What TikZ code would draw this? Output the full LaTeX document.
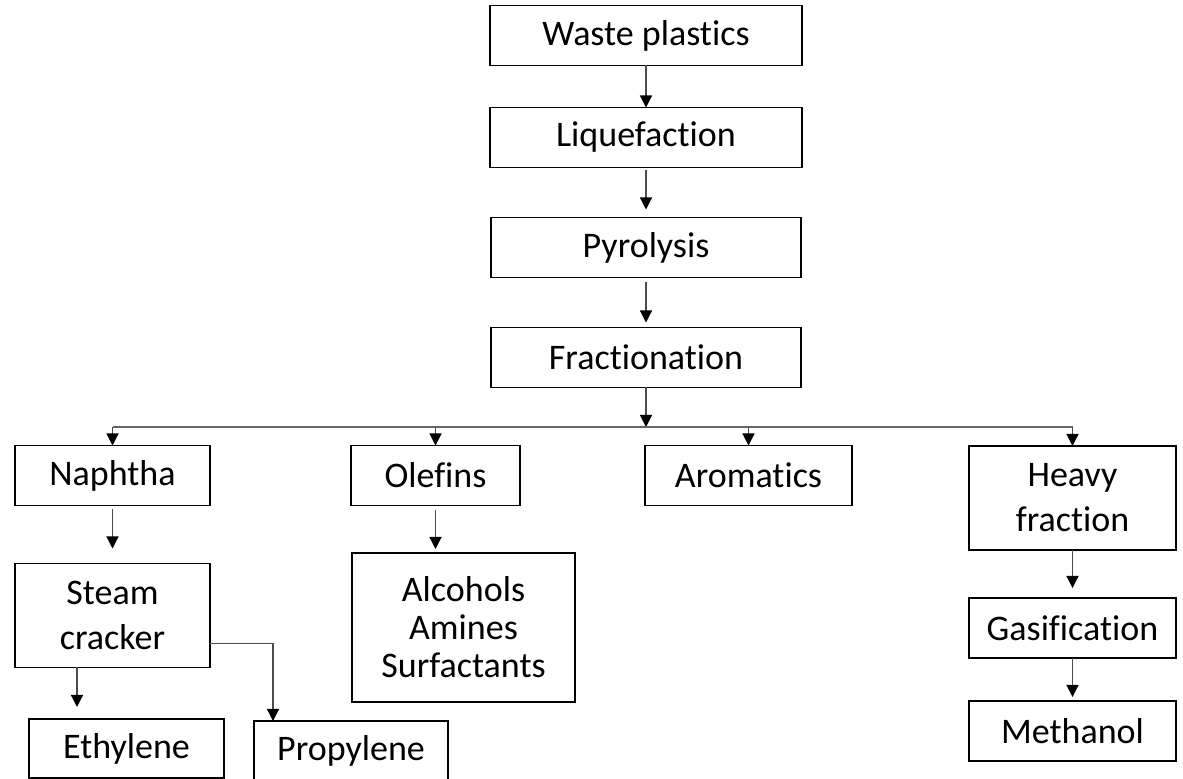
\documentclass[tikz,border=0pt]{standalone}
\usepackage{fontspec}
\setmainfont[Ligatures=NoCommon]{Carlito}
\usetikzlibrary{positioning,arrows.meta}

\begin{document}
\begin{tikzpicture}[x=0.5pt,y=-0.5pt,
				box/.style={draw,rectangle,line width=0.75pt,align=center,inner sep=0pt,outer sep=0pt,minimum height=30pt,font=\fontsize{18pt}{22.5pt}\selectfont},
				link/.style={draw=black!70,line width=0.6pt,-{Triangle[width=6pt,length=6pt,color=black,fill=black]}},
				busline/.style={draw=black!60,line width=0.6pt}]
				\useasboundingbox (0,0) rectangle (1183,779);
				% main chain
				\node (waste) [box,minimum width=156pt] at (646,35.5) {Waste plastics};
				\node (liq)   [box,minimum width=156pt,below=21pt of waste] {Liquefaction};
				\node (pyro)  [box,minimum width=155pt,below=25pt of liq]   {Pyrolysis};
				\node (frac)  [box,minimum width=155pt,below=25pt of pyro]  {Fractionation};
				\coordinate (bus) at (645,427);
				% fractions
				\node (naph)  [box,minimum width=97.5pt]  at (112.5,475.5) {Naphtha};
				\node (olef)  [box,minimum width=84.5pt]  at (435.5,475.5) {Olefins};
				\node (arom)  [box,minimum width=103.5pt] at (748.5,475.5) {Aromatics};
				\node (heavy) [box,minimum width=103.5pt,minimum height=52pt] at (1072.5,498) {Heavy\\fraction};
				% products
				\node (steam) [box,minimum width=97.5pt,minimum height=52pt,below=29pt of naph] {Steam\\cracker};
				\node (alc)   [box,minimum width=111.5pt,minimum height=74.5pt,font=\fontsize{18pt}{19pt}\selectfont] at (463.5,627.5) {Alcohols\\Amines\\Surfactants};
				\node (gas)   [box,minimum width=103.5pt,below=24pt of heavy] {Gasification};
				\node (meth)  [box,minimum width=103.5pt,below=21.5pt of gas] {Methanol};
				\node (eth)   [box,minimum width=97.5pt,minimum height=29.5pt] at (126.5,748.5) {Ethylene};
				\node (prop)  [box,minimum width=97pt] at (351,751) {Propylene};

				\draw[link] (waste) -- (liq);
				\draw[link,shorten <=1.5pt,shorten >=4pt] (liq) -- (pyro);
				\draw[link,shorten <=2.5pt,shorten >=2.5pt] (pyro) -- (frac);
				\draw[link] (frac) -- (frac.south |- bus);
				\draw[busline] (naph.north |- bus) -- (heavy.north |- bus);
				\draw[link] (naph.north |- bus) -- (naph);
				\draw[link] (olef.north |- bus) -- (olef);
				\draw[link] (arom.north |- bus) -- (arom);
				\draw[link] (heavy.north |- bus) -- (heavy);
				\draw[link,shorten <=2pt,shorten >=7.5pt] (naph) -- (steam);
				\draw[link,shorten <=2.5pt,shorten >=2pt] (olef) -- (olef.south |- alc.north);
				\draw[link,shorten >=5pt] (heavy) -- (gas);
				\draw[link,shorten >=2pt] (gas) -- (meth);
				\draw[link,shorten >=6pt] ([xshift=-17.75pt]steam.south) -- ([xshift=-17.75pt]steam.south |- eth.north);
				\draw[link] ([yshift=-14pt]steam.east) -| ([xshift=-39pt]prop.north);
			\end{tikzpicture}
\end{document}
